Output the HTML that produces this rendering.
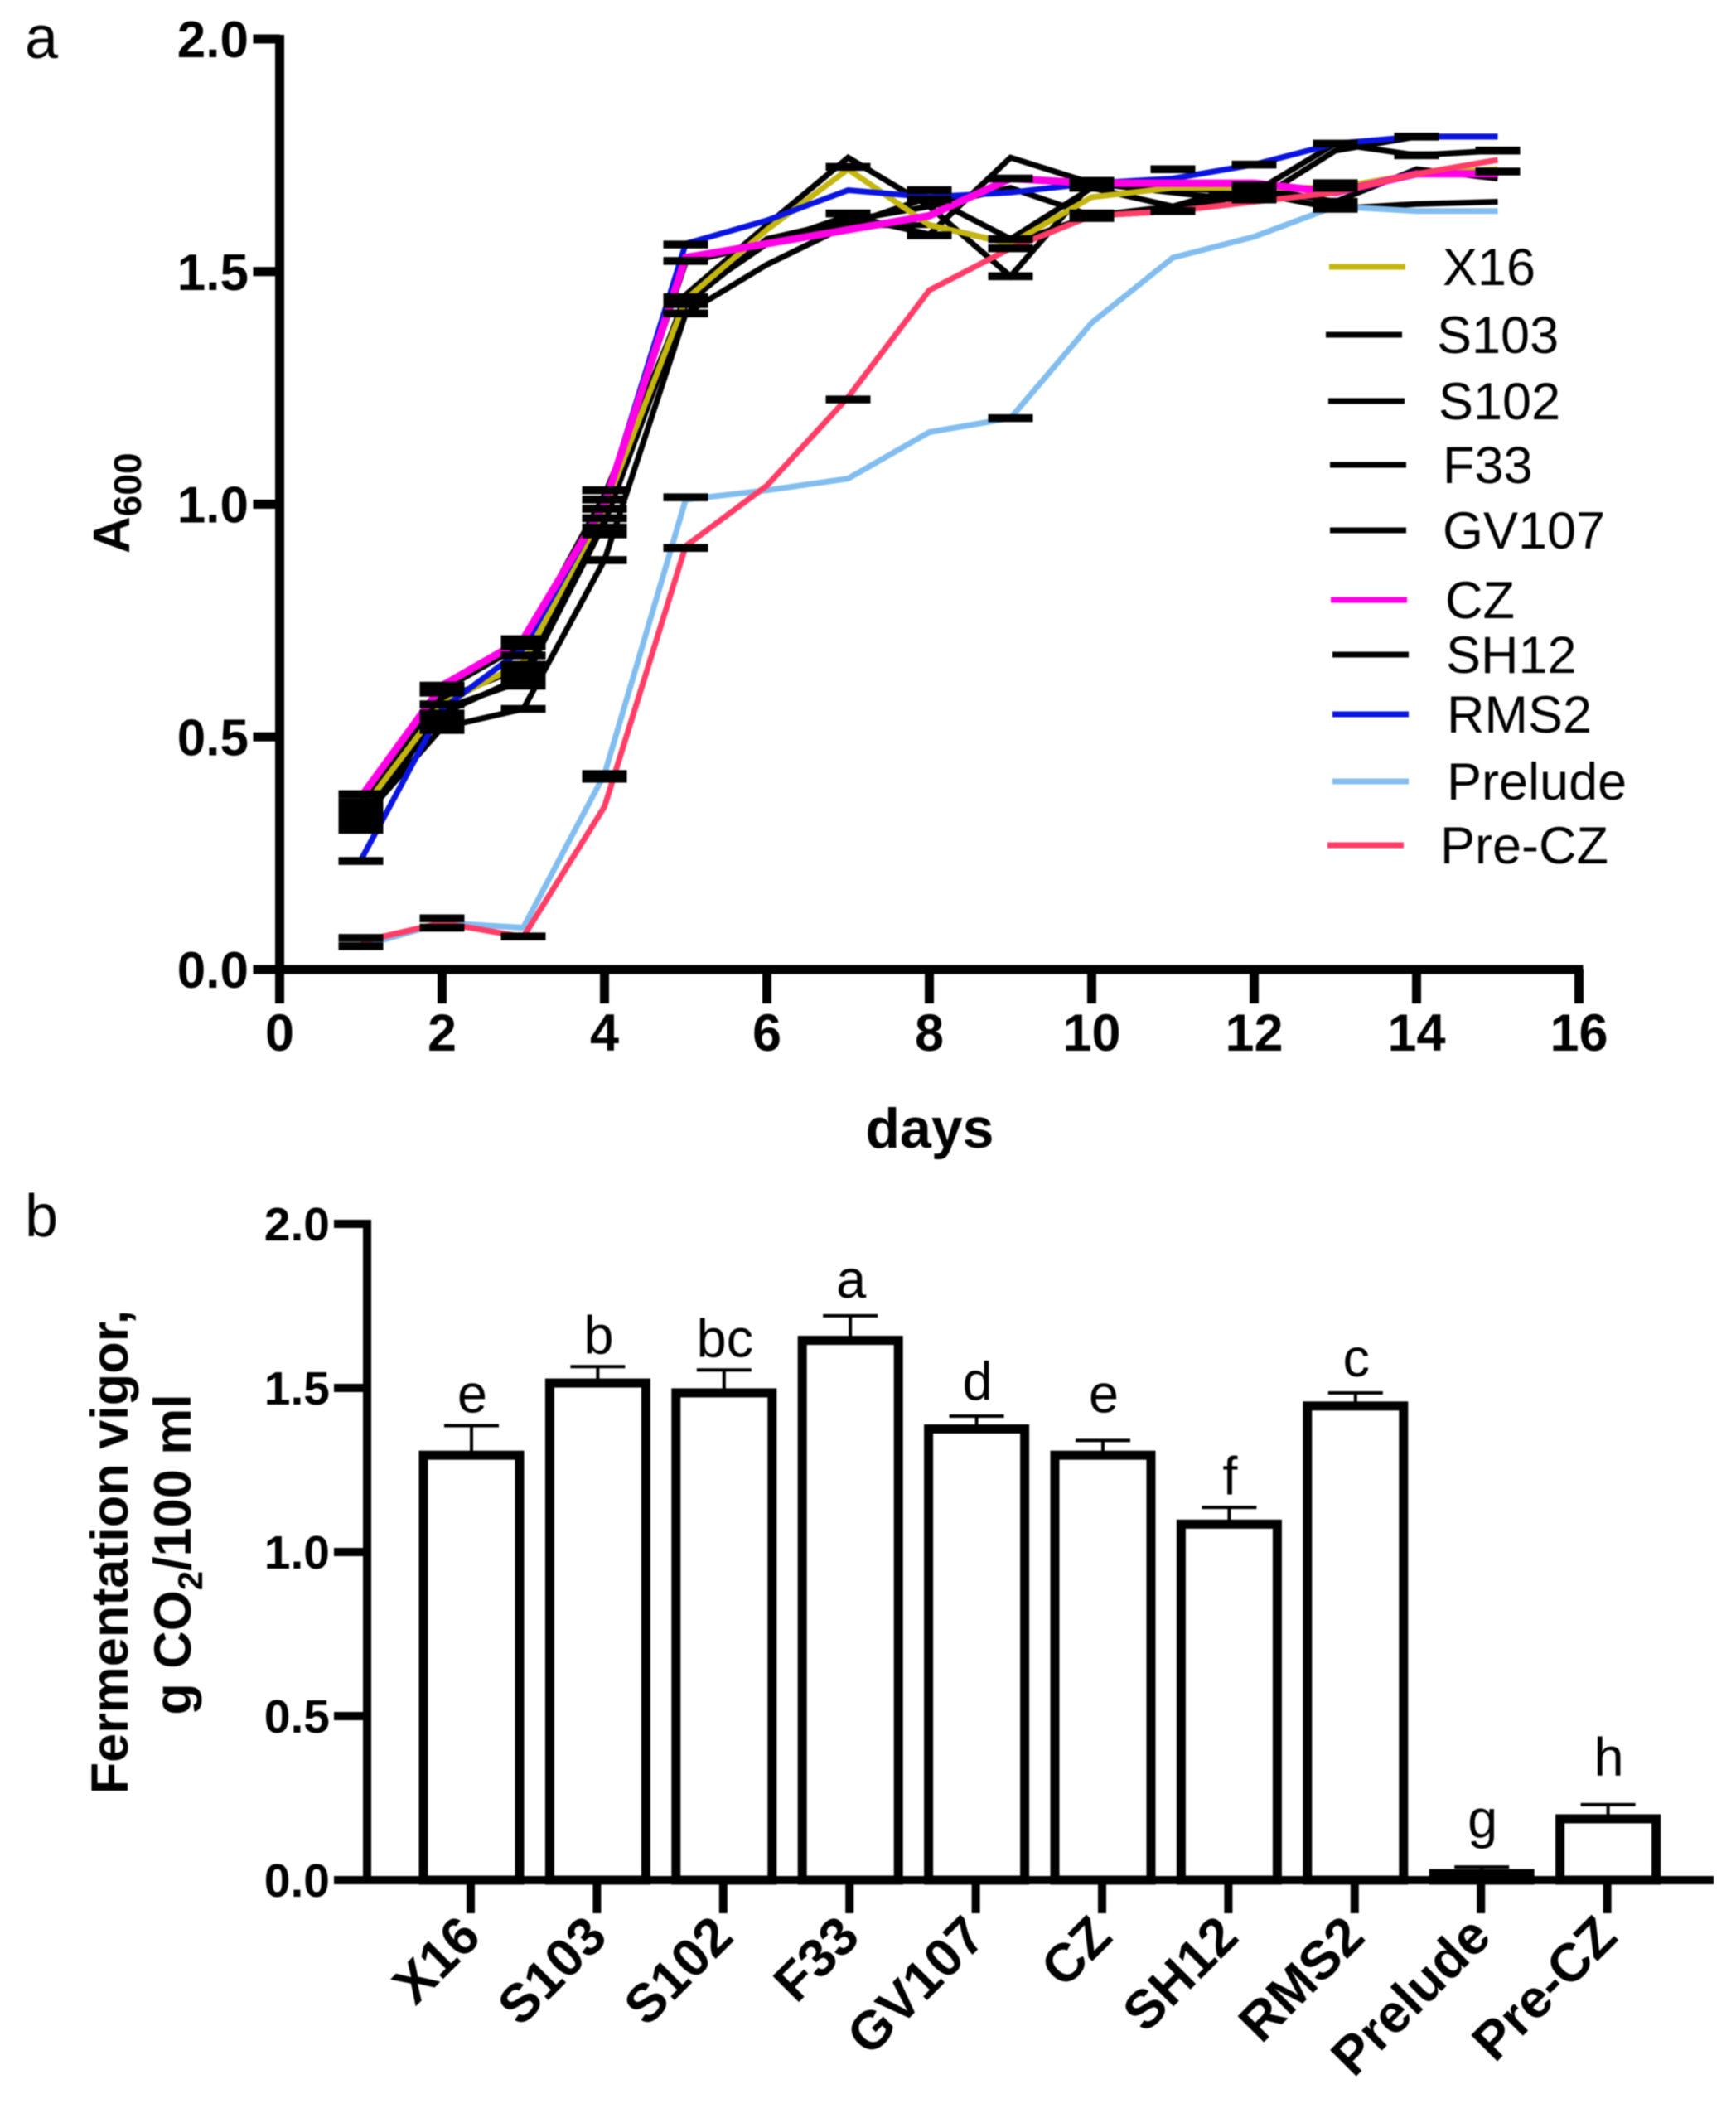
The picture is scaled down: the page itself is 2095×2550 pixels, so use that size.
<!DOCTYPE html>
<html>
<head>
<meta charset="utf-8">
<title>Growth curves and fermentation vigor</title>
<style>
html,body{margin:0;padding:0;background:#fff}
svg{display:block;filter:blur(0.8px)}
text{font-family:"Liberation Sans",Arial,sans-serif;fill:#000}
</style>
</head>
<body>
<svg id="fig" xmlns="http://www.w3.org/2000/svg" width="2095" height="2550" viewBox="0 0 2095 2550">
<rect width="2095" height="2550" fill="#fff"/>
<text x="30" y="70" font-size="72">a</text>
<text x="30" y="1492" font-size="72">b</text>
<text transform="translate(156 668) rotate(-90)" font-size="62" font-weight="bold">A<tspan font-size="46" dy="14">600</tspan></text>
<text x="1122" y="1385" font-size="68" font-weight="bold" text-anchor="middle">days</text>
<text transform="translate(154 1873) rotate(-90)" font-size="63" font-weight="bold" text-anchor="middle">Fermentation vigor,</text>
<text transform="translate(230 1876) rotate(-90)" font-size="63" font-weight="bold" text-anchor="middle">g CO<tspan font-size="42" dy="14">2</tspan><tspan dy="-14">/100 ml</tspan></text>
<g id="chartA"></g>
<g id="chartB"></g>
</svg>
<script>
// Panel a data
const days = [1,2,3,4,5,6,7,8,9,10,11,12,13,14,15];
const seriesNames = ['X16','S103','S102','F33','GV107','CZ','SH12','RMS2','Prelude','Pre-CZ'];
const seriesColors = ['#c4b60f','#000000','#000000','#000000','#000000','#ff00e6','#000000','#0a14e0','#82bdf0','#ff3d66'];
const x16Values = [0.34,0.57,0.66,0.99,1.44,1.59,1.72,1.60,1.56,1.66,1.68,1.68,1.68,1.71,1.72];
const s103Values = [0.33,0.55,0.63,0.98,1.45,1.60,1.745,1.64,1.49,1.69,1.68,1.67,1.775,1.75,1.76];
const s102Values = [0.35,0.60,0.70,1.02,1.44,1.56,1.62,1.58,1.745,1.69,1.67,1.65,1.76,1.79,1.79];
const f33Values = [0.32,0.52,0.56,0.88,1.41,1.515,1.60,1.60,1.56,1.62,1.63,1.67,1.635,1.645,1.65];
const gv107Values = [0.31,0.56,0.62,0.96,1.43,1.57,1.61,1.64,1.68,1.62,1.64,1.68,1.65,1.72,1.70];
const czValues = [0.37,0.61,0.71,1.00,1.53,1.56,1.59,1.62,1.70,1.69,1.69,1.69,1.67,1.71,1.71];
const sh12Values = [0.36,0.58,0.65,1.00,1.52,1.56,1.60,1.66,1.57,1.68,1.64,1.69,1.67,1.71,1.715];
const rms2Values = [0.235,0.56,0.69,1.00,1.56,1.61,1.675,1.66,1.67,1.69,1.70,1.73,1.775,1.79,1.79];
const preludeValues = [0.05,0.10,0.09,0.42,1.01,1.03,1.055,1.155,1.185,1.39,1.53,1.575,1.64,1.63,1.63];
const preCzValues = [0.06,0.10,0.07,0.35,0.91,1.04,1.23,1.46,1.55,1.62,1.63,1.65,1.67,1.71,1.74];
const capDays = [
 1,1,1,1,1,1,1,1,1,
 2,2,2,2,2,2,2,2,2,
 3,3,3,3,3,3,3,3,3,
 4,4,4,4,4,4,4,4,4,
 5,5,5,5,5,5,5,
 7,7,7,
 8,8,8,
 9,9,9,9,9,
 10,10,10,10,
 11,11,
 12,12,12,12,
 13,13,13,13,13,13,
 14,14,
 15,15];
const capLevels = [
 0.377,0.36,0.345,0.33,0.315,0.30,0.233,0.068,0.05,
 0.61,0.595,0.57,0.55,0.535,0.52,0.515,0.11,0.09,
 0.71,0.695,0.675,0.655,0.64,0.625,0.61,0.56,0.071,
 1.03,1.01,0.99,0.97,0.95,0.935,0.88,0.42,0.41,
 1.558,1.523,1.445,1.43,1.41,1.015,0.906,
 1.725,1.625,1.225,
 1.675,1.655,1.578,
 1.70,1.57,1.55,1.49,1.185,
 1.695,1.68,1.625,1.615,
 1.72,1.63,
 1.685,1.67,1.655,1.73,
 1.775,1.69,1.68,1.65,1.64,1.635,
 1.79,1.75,
 1.76,1.715];
const xTicksA = [0,2,4,6,8,10,12,14,16];
const yTicksA = ['0.0','0.5','1.0','1.5','2.0'];

// Panel b data
const strains = ['X16','S103','S102','F33','GV107','CZ','SH12','RMS2','Prelude','Pre-CZ'];
const vigor = [1.295,1.515,1.485,1.645,1.375,1.295,1.085,1.445,0.02,0.187];
const vigorErrTop = [1.385,1.565,1.555,1.72,1.414,1.34,1.136,1.485,0.04,0.23];
const letters = ['e','b','bc','a','d','e','f','c','g','h'];
const letterLevels = [1.425,1.605,1.595,1.775,1.465,1.425,1.175,1.535,0.13,0.32];
const yTicksB = ['0.0','0.5','1.0','1.5','2.0'];

const NS = 'http://www.w3.org/2000/svg';
function mk(parent, tag, attrs, txt){
  const e = document.createElementNS(NS, tag);
  for (const k in attrs) e.setAttribute(k, attrs[k]);
  if (txt !== undefined) e.textContent = txt;
  parent.appendChild(e);
  return e;
}
// axis functions
const xA = d => 337.5 + d * 98.0;
const yA = v => 1170 - v * 561.5;
const xB = i => 569 + i * 152.4;
const yB = v => 2269 - v * 396;

const gA = document.getElementById('chartA');
const gB = document.getElementById('chartB');
const allSeries = [x16Values,s103Values,s102Values,f33Values,gv107Values,czValues,sh12Values,rms2Values,preludeValues,preCzValues];

// series lines: black strains beneath the coloured strains
[1,2,3,4,6,0,7,5,8,9].forEach(s => {
  const vals = allSeries[s];
  const pts = vals.map((v, i) => xA(days[i]).toFixed(1) + ',' + yA(v).toFixed(1)).join(' ');
  const width = s === 5 ? 9 : 7;
  const line = mk(gA, 'polyline', {points: pts, fill: 'none', stroke: seriesColors[s], 'stroke-width': width, 'stroke-linejoin': 'miter'});
  
  
});
// error caps
capDays.forEach((d, i) => {
  const cap = mk(gA, 'line', {x1: xA(d) - 27, x2: xA(d) + 27, y1: yA(capLevels[i]), y2: yA(capLevels[i]), stroke: '#000', 'stroke-width': 9.5});
  
  
});
// axes a
const axisYA = mk(gA, 'line', {x1: xA(0), x2: xA(0), y1: yA(2) - 5, y2: yA(0) + 5, stroke: '#000', 'stroke-width': 11});


const axisXA = mk(gA, 'line', {x1: xA(0) - 32, x2: xA(16) + 5, y1: yA(0), y2: yA(0), stroke: '#000', 'stroke-width': 11});


xTicksA.forEach(t => {
  const tk = mk(gA, 'line', {x1: xA(t), x2: xA(t), y1: yA(0), y2: yA(0) + 41, stroke: '#000', 'stroke-width': 11});
  
  
  const lb = mk(gA, 'text', {x: xA(t), y: 1268, 'font-size': 63, 'font-weight': 'bold', 'text-anchor': 'middle'}, String(t));
  
  
});
yTicksA.forEach(t => {
  const v = parseFloat(t);
  const tk = mk(gA, 'line', {x1: xA(0) - 32, x2: xA(0), y1: yA(v), y2: yA(v), stroke: '#000', 'stroke-width': 11});
  
  
  const lb = mk(gA, 'text', {x: 300, y: yA(v) + 22, 'font-size': 62, 'font-weight': 'bold', 'text-anchor': 'end'}, t);
  
  
});
// legend
const legendLayout = [[1604,322,1741],[1600,404,1734],[1603,484,1736],[1605,561,1741],[1605,640,1741],[1606,724,1744],[1608,790,1745],[1608,862,1746],[1608,943,1746],[1602,1020,1738]];
seriesNames.forEach((n, i) => {
  const row = legendLayout[i];
  const sw = mk(gA, 'line', {x1: row[0], x2: row[0] + 92, y1: row[1], y2: row[1], stroke: seriesColors[i], 'stroke-width': 7});
  
  
  const lb = mk(gA, 'text', {x: row[2], y: row[1] + 22, 'font-size': 63}, n);
  
  
});

// bars
strains.forEach((n, i) => {
  const cx = xB(i);
  const bar = mk(gB, 'rect', {x: cx - 58, y: yB(vigor[i]), width: 116, height: yB(0) - yB(vigor[i]), fill: '#fff', stroke: '#000', 'stroke-width': 11});
  
  
  const stem = mk(gB, 'line', {x1: cx, x2: cx, y1: yB(vigor[i]), y2: yB(vigorErrTop[i]), stroke: '#000', 'stroke-width': 4});
  
  
  const cap = mk(gB, 'line', {x1: cx - 33, x2: cx + 33, y1: yB(vigorErrTop[i]), y2: yB(vigorErrTop[i]), stroke: '#000', 'stroke-width': 4});
  
  
  const let_ = mk(gB, 'text', {x: cx + 1, y: yB(letterLevels[i]), 'font-size': 65, 'text-anchor': 'middle'}, letters[i]);
  
  
  const tk = mk(gB, 'line', {x1: cx - 1, x2: cx - 1, y1: yB(0), y2: 2309, stroke: '#000', 'stroke-width': 10});
  
  
  const lb = mk(gB, 'text', {transform: 'translate(' + (cx + 14) + ' 2340) rotate(-45)', 'font-size': 65, 'font-weight': 'bold', 'text-anchor': 'end'}, n);
  
  
});
const axisYB = mk(gB, 'line', {x1: 443, x2: 443, y1: yB(2) - 5, y2: yB(0) + 5, stroke: '#000', 'stroke-width': 10});


const axisXB = mk(gB, 'line', {x1: 403, x2: 2068, y1: yB(0), y2: yB(0), stroke: '#000', 'stroke-width': 10});


yTicksB.forEach(t => {
  const v = parseFloat(t);
  const tk = mk(gB, 'line', {x1: 403, x2: 443, y1: yB(v), y2: yB(v), stroke: '#000', 'stroke-width': 10});
  
  
  const lb = mk(gB, 'text', {x: 398, y: yB(v) + 20, 'font-size': 57, 'font-weight': 'bold', 'text-anchor': 'end'}, t);
  
  
});
</script>
</body>
</html>
